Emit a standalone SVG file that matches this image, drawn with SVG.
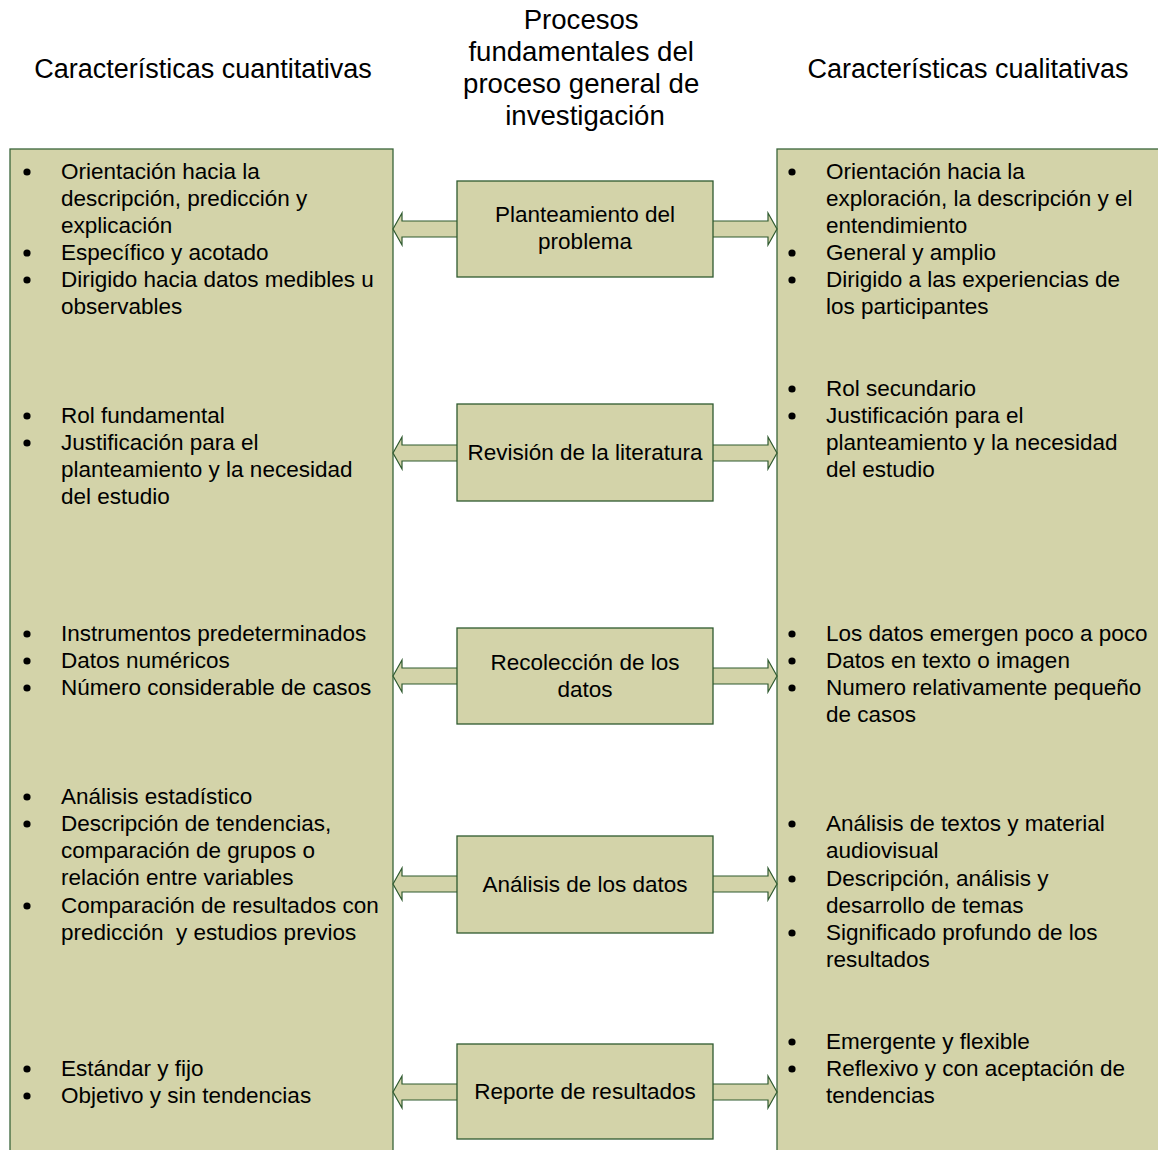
<svg xmlns="http://www.w3.org/2000/svg" width="1158" height="1150" viewBox="0 0 1158 1150">
  <style>
    .panel { fill: #D3D3A9; stroke: #3A653A; stroke-width: 1.3; }
    .box { fill: #D3D3A9; stroke: #2F5A2F; stroke-width: 1.3; }
    .arrow { fill: #D3D3A9; stroke: #2F5A2F; stroke-width: 1.2; stroke-linejoin: miter; }
    .head { font-family: "Liberation Sans", Arial, sans-serif; font-size: 27px; fill: #000; text-anchor: middle; }
    .title { font-size: 27.6px; }
    .txt { font-family: "Liberation Sans", Arial, sans-serif; font-size: 22.5px; fill: #000; }
    .lbl { font-family: "Liberation Sans", Arial, sans-serif; font-size: 22.5px; fill: #000; text-anchor: middle; }
    .dot { fill: #000; }
  </style>
  <defs>
    <!-- double-headed block arrow centred on y=0 -->
    <polygon id="dblArrow" class="arrow" points="393,0 402,-16 402,-8 768,-8 768,-16 777,0 768,16 768,8 402,8 402,16"/>
  </defs>

  <rect width="1158" height="1150" fill="#FFFFFF"/>

  <!-- column headings -->
  <g id="headings">
    <text class="head" x="203" y="78">Características cuantitativas</text>
    <text class="head title" x="585">
      <tspan x="585" y="29">Procesos</tspan>
      <tspan x="585" y="61">fundamentales del</tspan>
      <tspan x="585" y="93">proceso general de</tspan>
      <tspan x="585" y="125">investigación</tspan>
    </text>
    <text class="head" x="968" y="78">Características cualitativas</text>
  </g>

  <!-- side panels -->
  <g id="panel-cuantitativas">
    <rect class="panel" x="10" y="149" width="383" height="1010"/>
  </g>
  <g id="panel-cualitativas">
    <rect class="panel" x="777" y="149" width="390" height="1010"/>
  </g>

  <!-- connectors -->
  <g id="connectors">
    <use href="#dblArrow" transform="translate(0,229)"/>
    <use href="#dblArrow" transform="translate(0,453)"/>
    <use href="#dblArrow" transform="translate(0,676)"/>
    <use href="#dblArrow" transform="translate(0,884)"/>
    <use href="#dblArrow" transform="translate(0,1092)"/>
  </g>

  <!-- central process nodes -->
  <g id="node-planteamiento">
    <rect class="box" x="457" y="181" width="256" height="96"/>
    <text class="lbl"><tspan x="585" y="222">Planteamiento del</tspan><tspan x="585" y="249">problema</tspan></text>
  </g>
  <g id="node-revision">
    <rect class="box" x="457" y="404" width="256" height="97"/>
    <text class="lbl" x="585" y="460">Revisión de la literatura</text>
  </g>
  <g id="node-recoleccion">
    <rect class="box" x="457" y="628" width="256" height="96"/>
    <text class="lbl"><tspan x="585" y="670">Recolección de los</tspan><tspan x="585" y="697">datos</tspan></text>
  </g>
  <g id="node-analisis">
    <rect class="box" x="457" y="836" width="256" height="97"/>
    <text class="lbl" x="585" y="892">Análisis de los datos</text>
  </g>
  <g id="node-reporte">
    <rect class="box" x="457" y="1044" width="256" height="95"/>
    <text class="lbl" x="585" y="1099">Reporte de resultados</text>
  </g>

  <!-- quantitative characteristics -->
  <g id="items-cuantitativas">
    <circle class="dot" cx="27" cy="172" r="3.6"/>
    <circle class="dot" cx="27" cy="253" r="3.6"/>
    <circle class="dot" cx="27" cy="280" r="3.6"/>
    <text class="txt">
      <tspan x="61" y="179">Orientación hacia la</tspan>
      <tspan x="61" y="206">descripción, predicción y</tspan>
      <tspan x="61" y="233">explicación</tspan>
      <tspan x="61" y="260">Específico y acotado</tspan>
      <tspan x="61" y="287">Dirigido hacia datos medibles u</tspan>
      <tspan x="61" y="314">observables</tspan>
    </text>

    <circle class="dot" cx="27" cy="416" r="3.6"/>
    <circle class="dot" cx="27" cy="443" r="3.6"/>
    <text class="txt">
      <tspan x="61" y="423">Rol fundamental</tspan>
      <tspan x="61" y="450">Justificación para el</tspan>
      <tspan x="61" y="477">planteamiento y la necesidad</tspan>
      <tspan x="61" y="504">del estudio</tspan>
    </text>

    <circle class="dot" cx="27" cy="634" r="3.6"/>
    <circle class="dot" cx="27" cy="661" r="3.6"/>
    <circle class="dot" cx="27" cy="688" r="3.6"/>
    <text class="txt">
      <tspan x="61" y="641">Instrumentos predeterminados</tspan>
      <tspan x="61" y="668">Datos numéricos</tspan>
      <tspan x="61" y="695">Número considerable de casos</tspan>
    </text>

    <circle class="dot" cx="27" cy="797" r="3.6"/>
    <circle class="dot" cx="27" cy="824" r="3.6"/>
    <circle class="dot" cx="27" cy="906" r="3.6"/>
    <text class="txt">
      <tspan x="61" y="804">Análisis estadístico</tspan>
      <tspan x="61" y="831">Descripción de tendencias,</tspan>
      <tspan x="61" y="858">comparación de grupos o</tspan>
      <tspan x="61" y="885">relación entre variables</tspan>
      <tspan x="61" y="913">Comparación de resultados con</tspan>
      <tspan x="61" y="940" xml:space="preserve">predicción  y estudios previos</tspan>
    </text>

    <circle class="dot" cx="27" cy="1069" r="3.6"/>
    <circle class="dot" cx="27" cy="1096" r="3.6"/>
    <text class="txt">
      <tspan x="61" y="1076">Estándar y fijo</tspan>
      <tspan x="61" y="1103">Objetivo y sin tendencias</tspan>
    </text>
  </g>

  <!-- qualitative characteristics -->
  <g id="items-cualitativas">
    <circle class="dot" cx="792" cy="172" r="3.6"/>
    <circle class="dot" cx="792" cy="253" r="3.6"/>
    <circle class="dot" cx="792" cy="280" r="3.6"/>
    <text class="txt">
      <tspan x="826" y="179">Orientación hacia la</tspan>
      <tspan x="826" y="206">exploración, la descripción y el</tspan>
      <tspan x="826" y="233">entendimiento</tspan>
      <tspan x="826" y="260">General y amplio</tspan>
      <tspan x="826" y="287">Dirigido a las experiencias de</tspan>
      <tspan x="826" y="314">los participantes</tspan>
    </text>

    <circle class="dot" cx="792" cy="389" r="3.6"/>
    <circle class="dot" cx="792" cy="416" r="3.6"/>
    <text class="txt">
      <tspan x="826" y="396">Rol secundario</tspan>
      <tspan x="826" y="423">Justificación para el</tspan>
      <tspan x="826" y="450">planteamiento y la necesidad</tspan>
      <tspan x="826" y="477">del estudio</tspan>
    </text>

    <circle class="dot" cx="792" cy="634" r="3.6"/>
    <circle class="dot" cx="792" cy="661" r="3.6"/>
    <circle class="dot" cx="792" cy="688" r="3.6"/>
    <text class="txt">
      <tspan x="826" y="641">Los datos emergen poco a poco</tspan>
      <tspan x="826" y="668">Datos en texto o imagen</tspan>
      <tspan x="826" y="695">Numero relativamente pequeño</tspan>
      <tspan x="826" y="722">de casos</tspan>
    </text>

    <circle class="dot" cx="792" cy="824" r="3.6"/>
    <circle class="dot" cx="792" cy="879" r="3.6"/>
    <circle class="dot" cx="792" cy="933" r="3.6"/>
    <text class="txt">
      <tspan x="826" y="831">Análisis de textos y material</tspan>
      <tspan x="826" y="858">audiovisual</tspan>
      <tspan x="826" y="886">Descripción, análisis y</tspan>
      <tspan x="826" y="913">desarrollo de temas</tspan>
      <tspan x="826" y="940">Significado profundo de los</tspan>
      <tspan x="826" y="967">resultados</tspan>
    </text>

    <circle class="dot" cx="792" cy="1042" r="3.6"/>
    <circle class="dot" cx="792" cy="1069" r="3.6"/>
    <text class="txt">
      <tspan x="826" y="1049">Emergente y flexible</tspan>
      <tspan x="826" y="1076">Reflexivo y con aceptación de</tspan>
      <tspan x="826" y="1103">tendencias</tspan>
    </text>
  </g>
</svg>
